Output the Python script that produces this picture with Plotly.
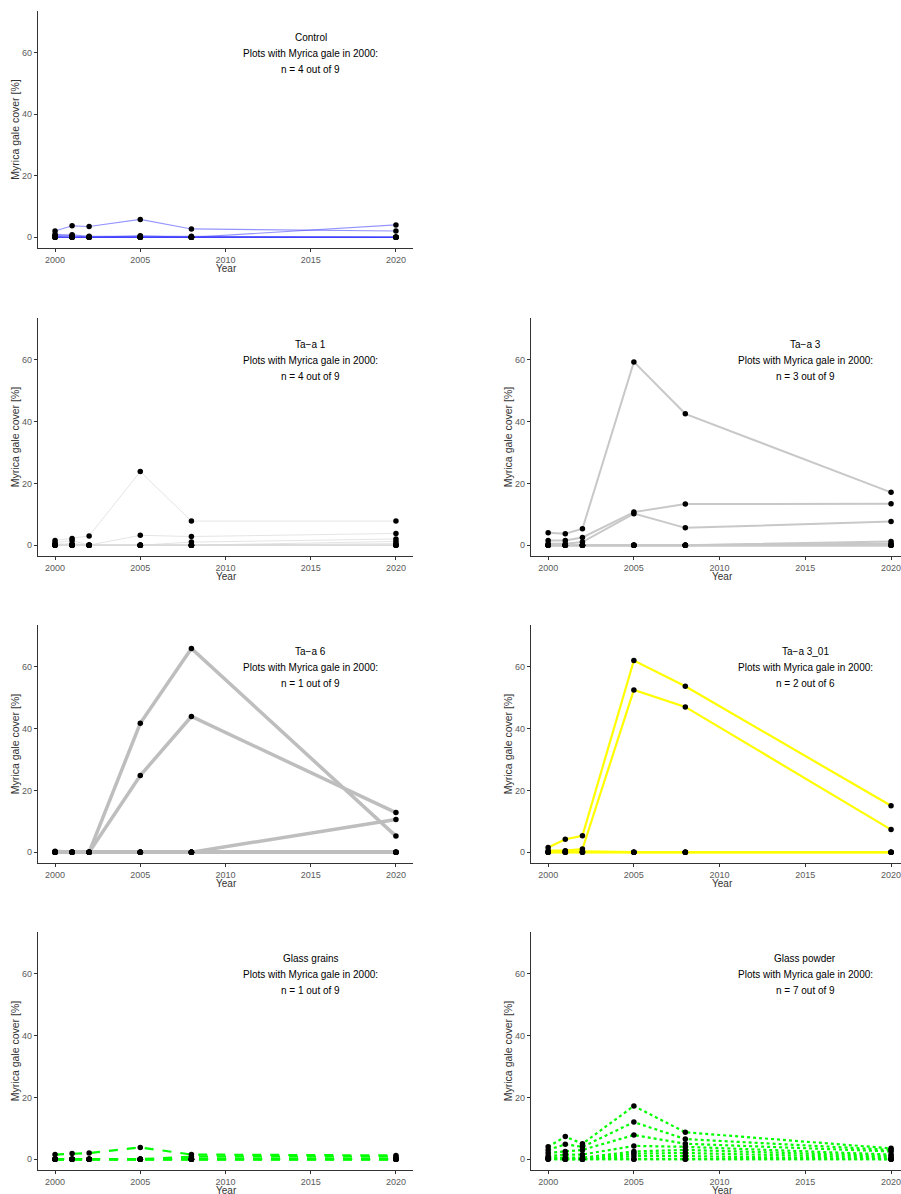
import plotly.graph_objects as go

# ---------------- data ----------------
years = [2000, 2001, 2002, 2005, 2008, 2020]

control = [
    [2.0, 3.7, 3.5, 5.8, 2.7, 2.0],
    [1.0, 0.5, 0.0, 0.5, 0.0, 4.0],
    [0.5, 0.8, 0.3, 0.3, 0.3, 0.0],
    [0.3, 0.0, 0.0, 0.0, 0.0, 0.0],
    [0.0, 0.0, 0.0, 0.0, 0.0, 0.0],
    [0.0, 0.0, 0.0, 0.0, 0.0, 0.0],
    [0.0, 0.0, 0.0, 0.0, 0.0, 0.0],
    [0.0, 0.0, 0.0, 0.0, 0.0, 0.0],
    [0.0, 0.0, 0.0, 0.0, 0.0, 0.0],
]

taa1 = [
    [1.5, 2.2, 3.0, 23.8, 7.8, 7.8],
    [0.8, 1.5, 0.0, 3.2, 2.8, 3.8],
    [0.3, 0.5, 0.0, 0.0, 1.0, 2.0],
    [0.2, 0.0, 0.0, 0.0, 0.0, 1.2],
    [0.0, 0.0, 0.0, 0.0, 0.0, 0.5],
    [0.0, 0.0, 0.0, 0.0, 0.0, 0.0],
    [0.0, 0.0, 0.0, 0.0, 0.0, 0.0],
    [0.0, 0.0, 0.0, 0.0, 0.0, 0.0],
    [0.0, 0.0, 0.0, 0.0, 0.0, 0.0],
]

taa3 = [
    [4.0, 3.7, 5.3, 59.3, 42.5, 17.1],
    [1.5, 1.5, 2.5, 10.7, 13.3, 13.4],
    [0.5, 0.5, 1.0, 10.2, 5.6, 7.7],
    [0.0, 0.0, 0.0, 0.0, 0.0, 1.2],
    [0.0, 0.0, 0.0, 0.0, 0.0, 0.5],
    [0.0, 0.0, 0.0, 0.0, 0.0, 0.0],
    [0.0, 0.0, 0.0, 0.0, 0.0, 0.0],
    [0.0, 0.0, 0.0, 0.0, 0.0, 0.0],
    [0.0, 0.0, 0.0, 0.0, 0.0, 0.0],
]

taa6 = [
    [0.3, 0.0, 0.0, 41.7, 65.9, 5.2],
    [0.0, 0.0, 0.0, 24.8, 43.9, 12.8],
    [0.0, 0.0, 0.0, 0.0, 0.0, 10.6],
    [0.0, 0.0, 0.0, 0.0, 0.0, 0.0],
    [0.0, 0.0, 0.0, 0.0, 0.0, 0.0],
    [0.0, 0.0, 0.0, 0.0, 0.0, 0.0],
    [0.0, 0.0, 0.0, 0.0, 0.0, 0.0],
    [0.0, 0.0, 0.0, 0.0, 0.0, 0.0],
    [0.0, 0.0, 0.0, 0.0, 0.0, 0.0],
]

taa3_01 = [
    [1.5, 4.2, 5.3, 62.0, 53.7, 15.0],
    [0.5, 0.5, 1.0, 52.5, 47.0, 7.3],
    [0.0, 0.3, 0.3, 0.0, 0.0, 0.0],
    [0.0, 0.0, 0.0, 0.0, 0.0, 0.0],
    [0.0, 0.0, 0.0, 0.0, 0.0, 0.0],
    [0.0, 0.0, 0.0, 0.0, 0.0, 0.0],
]

glass_grains = [
    [1.5, 1.8, 2.0, 3.8, 1.5, 1.2],
    [0.0, 0.0, 0.0, 0.0, 0.8, 0.8],
    [0.0, 0.0, 0.0, 0.0, 0.0, 0.0],
    [0.0, 0.0, 0.0, 0.0, 0.0, 0.0],
    [0.0, 0.0, 0.0, 0.0, 0.0, 0.0],
    [0.0, 0.0, 0.0, 0.0, 0.0, 0.0],
    [0.0, 0.0, 0.0, 0.0, 0.0, 0.0],
    [0.0, 0.0, 0.0, 0.0, 0.0, 0.0],
    [0.0, 0.0, 0.0, 0.0, 0.0, 0.0],
]

glass_powder = [
    [4.0, 7.3, 5.0, 17.2, 8.7, 3.5],
    [3.0, 4.8, 4.0, 12.0, 6.5, 3.0],
    [2.0, 2.5, 3.0, 7.8, 5.0, 2.5],
    [1.0, 1.5, 1.5, 4.3, 4.0, 1.5],
    [0.5, 0.5, 0.5, 2.5, 3.0, 1.0],
    [0.3, 0.0, 0.0, 1.8, 2.0, 0.5],
    [0.2, 0.0, 0.0, 1.0, 1.0, 0.0],
    [0.0, 0.0, 0.0, 0.0, 0.0, 0.0],
    [0.0, 0.0, 0.0, 0.0, 0.0, 0.0],
]

panel_titles = ["Control", "Ta\u2212a 1", "Ta\u2212a 3", "Ta\u2212a 6",
                "Ta\u2212a 3_01", "Glass grains", "Glass powder"]
panel_counts = ["n = 4 out of 9", "n = 4 out of 9", "n = 3 out of 9",
                "n = 1 out of 9", "n = 2 out of 6", "n = 1 out of 9",
                "n = 7 out of 9"]
panel_data = [control, taa1, taa3, taa6, taa3_01, glass_grains, glass_powder]

x_ticks = [2000, 2005, 2010, 2015, 2020]
y_ticks = [0, 20, 40, 60]

# ---------------- styles / layout ----------------
line_styles = [
    dict(color="rgba(60,60,255,0.55)", width=1.1, dash="solid"),
    dict(color="#D9D9D9", width=0.7, dash="solid"),
    dict(color="#C8C8C8", width=2.0, dash="solid"),
    dict(color="#BEBEBE", width=3.5, dash="solid"),
    dict(color="#FFFF00", width=2.2, dash="solid"),
    dict(color="#00FF00", width=2.2, dash="dash"),
    dict(color="#00FF00", width=2.2, dash="dot"),
]

W, H = 901, 1194
# pixel boxes: (left, right, top, bottom)
rows_px = [(11, 248), (318, 556), (625, 863), (932, 1170)]
left_px = (38, 413)
right_px = (531, 901)
positions = [
    (left_px, rows_px[0]),
    (left_px, rows_px[1]), (right_px, rows_px[1]),
    (left_px, rows_px[2]), (right_px, rows_px[2]),
    (left_px, rows_px[3]), (right_px, rows_px[3]),
]
left_range = [1999, 2021]
right_range = [1999, 2020.58]
xtitle_center = {False: 226, True: 722}

FONT = "Liberation Sans, Arial, sans-serif"
AXIS_COL = "#333333"
TICK_COL = "#5A5A5A"

fig = go.Figure()
layout = dict(
    width=W, height=H,
    margin=dict(l=0, r=0, t=0, b=0),
    paper_bgcolor="white", plot_bgcolor="white",
    showlegend=False,
    font=dict(family=FONT),
)
annotations = []

for i, (data, style, (xpx, ypx)) in enumerate(zip(panel_data, line_styles, positions)):
    k = "" if i == 0 else str(i + 1)
    xa, ya = "x" + k, "y" + k
    # lines first
    for series in data:
        fig.add_trace(go.Scatter(
            x=years, y=series, mode="lines", xaxis=xa, yaxis=ya,
            line=dict(color=style["color"], width=style["width"], dash=style["dash"]),
            hoverinfo="skip"))
    # points on top
    px_all, py_all = [], []
    for series in data:
        px_all += years
        py_all += series
    fig.add_trace(go.Scatter(
        x=px_all, y=py_all, mode="markers", xaxis=xa, yaxis=ya,
        marker=dict(color="black", size=5.5, line=dict(width=0))))

    is_right = xpx[0] > 450
    xdom = [xpx[0] / W, xpx[1] / W]
    ydom = [1 - ypx[1] / H, 1 - ypx[0] / H]
    layout["xaxis" + k] = dict(
        domain=xdom, anchor=ya, range=right_range if is_right else left_range,
        showgrid=False, zeroline=False, showline=True, linecolor=AXIS_COL, linewidth=1.3,
        ticks="outside", ticklen=3, tickwidth=1, tickcolor=AXIS_COL,
        tickvals=x_ticks, ticktext=[str(t) for t in x_ticks],
        ticklabeloverflow="allow",
        tickfont=dict(size=9, color=TICK_COL, family=FONT),
        automargin=False,
    )
    layout["yaxis" + k] = dict(
        domain=ydom, anchor=xa, range=[-3.5, 73.5],
        showgrid=False, zeroline=False, showline=True, linecolor=AXIS_COL, linewidth=1.3,
        ticks="outside", ticklen=3, tickwidth=1, tickcolor=AXIS_COL,
        tickvals=y_ticks, ticktext=[str(t) for t in y_ticks],
        tickfont=dict(size=9, color=TICK_COL, family=FONT),
        title=dict(text="Myrica gale cover [%]", font=dict(size=10.5, color=AXIS_COL, family=FONT), standoff=0),
        automargin=False,
    )
    # x-axis title as paper annotation (precise placement)
    annotations.append(dict(
        x=xtitle_center[is_right] / W, y=1 - (ypx[1] + 20.5) / H,
        xref="paper", yref="paper", text="Year", showarrow=False,
        xanchor="center", yanchor="middle",
        font=dict(size=10, color=AXIS_COL, family=FONT)))
    for txt, shift in [(panel_titles[i], 16), ("Plots with Myrica gale in 2000:", 0), (panel_counts[i], -16)]:
        annotations.append(dict(
            x=2015, y=60, xref=xa, yref=ya, text=txt, showarrow=False,
            xanchor="center", yanchor="middle", yshift=shift - 1,
            font=dict(size=10, color="black", family=FONT)))

layout["annotations"] = annotations
fig.update_layout(**layout)
fig.write_html(
    "out.html",
    config={"displayModeBar": False},
    post_script="document.body.style.margin='0px';document.body.style.padding='0px';"
                "document.body.style.overflow='hidden';",
)
